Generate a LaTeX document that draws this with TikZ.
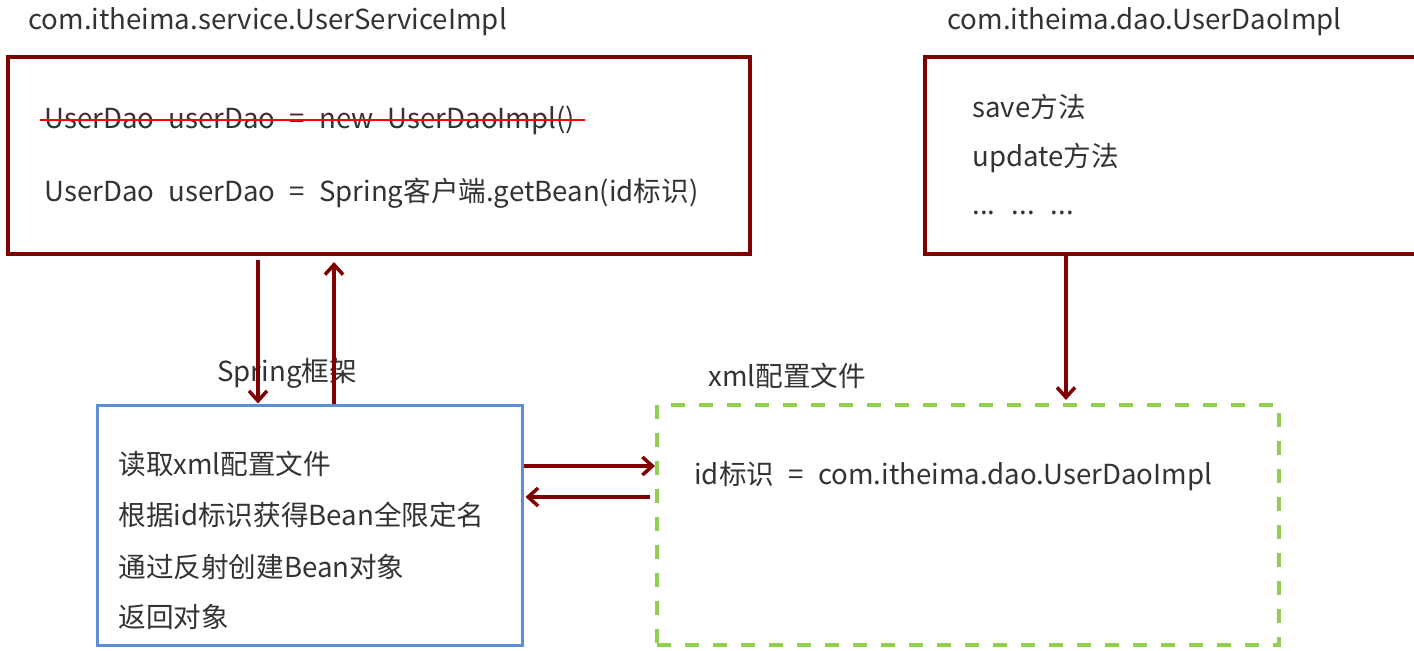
\documentclass[tikz,border=0pt]{standalone}
\usepackage{fontspec}
\setmainfont[WordSpace=2.3]{Noto Sans CJK SC}
\usepackage{xcolor}
\usetikzlibrary{positioning, arrows.meta}

\definecolor{darkred}{HTML}{7F0000}
\definecolor{springblue}{HTML}{5B8ED6}
\definecolor{xmlgreen}{HTML}{92D050}
\definecolor{txtgray}{HTML}{333333}

\begin{document}
\begin{tikzpicture}[
    x=0.5pt, y=-0.5pt,
    label/.style={anchor=west, inner sep=0pt, text=txtgray, font=\fontsize{13.8}{16}\selectfont},
    classbox/.style={rectangle, draw=darkred, line width=2pt},
    springbox/.style={rectangle, draw=springblue, line width=1.5pt},
    xmlbox/.style={rectangle, draw=xmlgreen, line width=2pt, dash pattern=on 7pt off 7pt},
    link/.style={-{Straight Barb[length=5pt, width=9pt]}, draw=darkred, line width=1.75pt},
    strike/.style={draw=red, line width=1pt}
]

\clip (0,0) rectangle (1414,650);

\node[classbox, minimum width=371pt, minimum height=98.5pt] (service) at (379,155.5) {};
\node[classbox, minimum width=257.5pt, minimum height=98.5pt] (dao) at (1182.5,155.5) {};
\node[springbox, minimum width=212.5pt, minimum height=120pt] (spring) at (309.5,525) {};
\node[xmlbox, minimum width=311pt, minimum height=120pt] (xml) at (968,525) {};

\node[label] (servicename) at (28,22) {com.itheima.service.UserServiceImpl};
\node[label] (daoname) at (947,22) {com.itheima.dao.UserDaoImpl};

\node[label] (oldline) at (44,120) {UserDao userDao = new UserDaoImpl()};
\node[label] (newline) at (44,193) {UserDao userDao = Spring客户端.getBean(id标识)};
\draw[strike] ([xshift=-2pt]oldline.west) -- ([xshift=5pt]oldline.east);

\node[label] (save) at (972,107) {save方法};
\node[label] (update) at (972,158) {update方法};
\node[label] (more) at (972,213) {... ... ...};

\node[label] (springname) at (217,373) {Spring框架};
\node[label] (xmlname) at (708,376) {xml配置文件};

\node[label] (step1) at (118,464) {读取xml配置文件};
\node[label] (step2) at (118,515) {根据id标识获得Bean全限定名};
\node[label] (step3) at (118,567) {通过反射创建Bean对象};
\node[label] (step4) at (118,617) {返回对象};

\node[label] (mapping) at (694,476) {id标识 = com.itheima.dao.UserDaoImpl};

\draw[link] ([xshift=-60.5pt, yshift=-2pt]service.south) -- ([xshift=-25.75pt]spring.north);
\draw[link] ([xshift=12.25pt]spring.north) -- ([xshift=-22.5pt, yshift=-3pt]service.south);
\draw[link] ([xshift=-58.25pt]dao.south) -- ([xshift=49pt, yshift=1.5pt]xml.north);
\draw[link] ([yshift=29.5pt]spring.east) -- ([yshift=29.5pt]xml.west);
\draw[link] ([xshift=-2.5pt, yshift=14pt]xml.west) -- ([xshift=1pt, yshift=14pt]spring.east);

\end{tikzpicture}
\end{document}
